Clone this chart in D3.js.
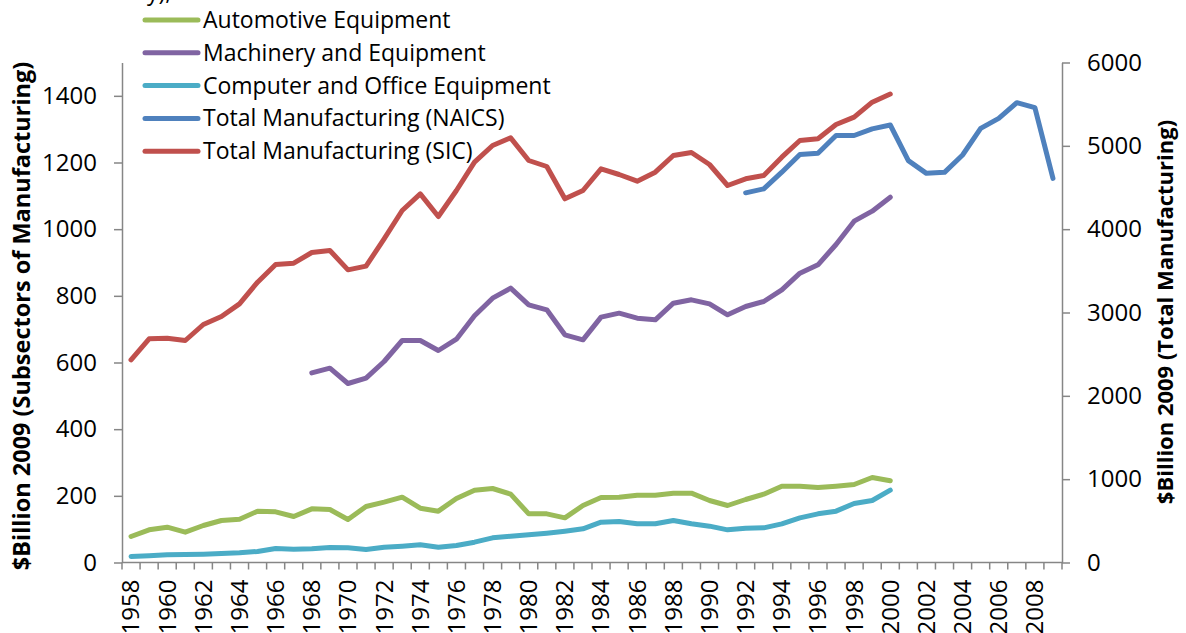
<!DOCTYPE html>
<html>
<head>
<meta charset="utf-8">
<script src="https://cdn.jsdelivr.net/npm/d3@7"></script>
<style>
  body { margin: 0; background: #fff; }
  svg { display: block; font-family: "Open Sans", sans-serif; }
  .axis path, .axis line { stroke: #868686; stroke-width: 1.5; }
  .axis text { fill: #000; font-size: 24px; font-family: "Open Sans", sans-serif; }
</style>
</head>
<body>
<svg id="chart" width="1186" height="633"></svg>
<script>
// data
var years = d3.range(1958, 2010);
var yearLabels = years.filter(function(y){ return (y - 1958) % 2 == 0; });

var automotive = [78, 98, 106, 91, 111, 126, 130, 154, 152, 138, 161, 159, 129, 168, 181, 196, 163, 154, 192, 217,
  222, 205, 146, 146, 134, 171, 195, 196, 202, 202, 208, 208, 186, 171, 189, 205, 229, 229, 225, 229, 234, 255, 245];
var machinery = [569, 583, 537, 553, 603, 666, 666, 636, 670, 740, 793, 823, 773, 758, 683, 668, 736, 748, 733, 728,
  778, 788, 776, 743, 768, 783, 818, 868, 893, 954, 1024, 1054, 1096];
var computer = [18, 20, 23, 24, 25, 27, 29, 33, 42, 40, 41, 45, 44, 39, 46, 49, 53, 46, 51, 61,
  74, 79, 83, 88, 94, 101, 121, 123, 116, 116, 126, 116, 109, 98, 103, 104, 116, 134, 146, 154, 177, 186, 217];
var totalNaics = [4436, 4484, 4684, 4896, 4912, 5124, 5124, 5204, 5250, 4822, 4670, 4682, 4890, 5210, 5330, 5518, 5458, 4610];
var totalSic = [2432, 2684, 2692, 2664, 2856, 2952, 3104, 3364, 3576, 3592, 3720, 3744, 3512, 3556, 3884, 4224, 4424, 4152, 4464, 4804,
  5004, 5096, 4824, 4752, 4364, 4464, 4724, 4656, 4576, 4684, 4884, 4920, 4776, 4524, 4604, 4644, 4864, 5064, 5084, 5256, 5344, 5524, 5622];

var leftTicks = [0, 200, 400, 600, 800, 1000, 1200, 1400];
var rightTicks = [0, 1000, 2000, 3000, 4000, 5000, 6000];

var series = [
  {name: "Automotive Equipment", start: 1958, values: automotive, axis: "left", color: "#9BBB59"},
  {name: "Machinery and Equipment", start: 1968, values: machinery, axis: "left", color: "#8064A2"},
  {name: "Computer and Office Equipment", start: 1958, values: computer, axis: "left", color: "#4BACC6"},
  {name: "Total Manufacturing (NAICS)", start: 1992, values: totalNaics, axis: "right", color: "#4F81BD"},
  {name: "Total Manufacturing (SIC)", start: 1958, values: totalSic, axis: "right", color: "#C0504D"}
];

var svg = d3.select("#chart");
var plotLeft = 122, plotRight = 1062, plotTop = 62.5, plotBottom = 562.5;

var x = d3.scaleBand().domain(years).range([plotLeft, plotRight]).padding(0);
var yL = d3.scaleLinear().domain([0, 1500]).range([plotBottom, plotTop]);
var yR = d3.scaleLinear().domain([0, 6000]).range([plotBottom, plotTop]);

// cut-off title fragment at the very top
svg.append("text").attr("x", 147).attr("y", 0).style("font-size", "23px").text("y),");

// left axis
svg.append("g").attr("class", "axis")
  .attr("transform", "translate(" + plotLeft + ",0)")
  .call(d3.axisLeft(yL).tickValues(leftTicks).tickFormat(d3.format("d")).tickSizeInner(8).tickSizeOuter(0).tickPadding(17));

// right axis
svg.append("g").attr("class", "axis")
  .attr("transform", "translate(" + plotRight + ",0)")
  .call(d3.axisRight(yR).tickValues(rightTicks).tickFormat(d3.format("d")).tickSizeInner(8).tickSizeOuter(0).tickPadding(17));

// bottom axis: tick marks at category boundaries, labels every second year
var xg = svg.append("g").attr("class", "axis").attr("transform", "translate(0," + plotBottom + ")");
xg.append("line").attr("x1", plotLeft).attr("x2", plotRight).attr("y1", 0).attr("y2", 0);
xg.selectAll("line.tk")
  .data(years.concat([2010]))
  .enter().append("line")
  .attr("class", "tk")
  .attr("x1", function(d){ return d == 2010 ? plotRight : x(d); })
  .attr("x2", function(d){ return d == 2010 ? plotRight : x(d); })
  .attr("y1", 0).attr("y2", 7);
xg.selectAll("text")
  .data(yearLabels)
  .enter().append("text")
  .attr("transform", function(d){
    return "translate(" + (x(d) + x.bandwidth() / 2) + ",17) rotate(-90)";
  })
  .attr("dy", "0.35em")
  .style("text-anchor", "end")
  .text(function(d){ return d; });

// axis titles
svg.append("text")
  .attr("transform", "translate(30,316) rotate(-90)")
  .style("text-anchor", "middle").style("font-weight", "bold").style("font-size", "23.5px")
  .text("$Billion 2009 (Subsectors of Manufacturing)");
svg.append("text")
  .attr("transform", "translate(1173,312) rotate(-90)")
  .style("text-anchor", "middle").style("font-weight", "bold").style("font-size", "22px")
  .text("$Billion 2009 (Total Manufacturing)");

// lines
series.forEach(function(s){
  var yScale = s.axis == "left" ? yL : yR;
  var line = d3.line()
    .x(function(d, i){ return x(s.start + i) + x.bandwidth() / 2; })
    .y(function(d){ return yScale(d); });
  svg.append("path")
    .datum(s.values)
    .attr("fill", "none")
    .attr("stroke", s.color)
    .attr("stroke-width", 5)
    .attr("stroke-linecap", "round")
    .attr("stroke-linejoin", "round")
    .attr("d", line);
});

// legend
var legend = svg.append("g").selectAll("g")
  .data(series)
  .enter().append("g")
  .attr("transform", function(d, i){ return "translate(145," + (20 + i * 32.8) + ")"; });
legend.append("line")
  .attr("x1", 0).attr("x2", 53)
  .attr("stroke", function(d){ return d.color; })
  .attr("stroke-width", 5)
  .attr("stroke-linecap", "round");
legend.append("text")
  .attr("x", 58).attr("dy", "0.35em")
  .style("font-size", "23px")
  .text(function(d){ return d.name; });
</script>
</body>
</html>
